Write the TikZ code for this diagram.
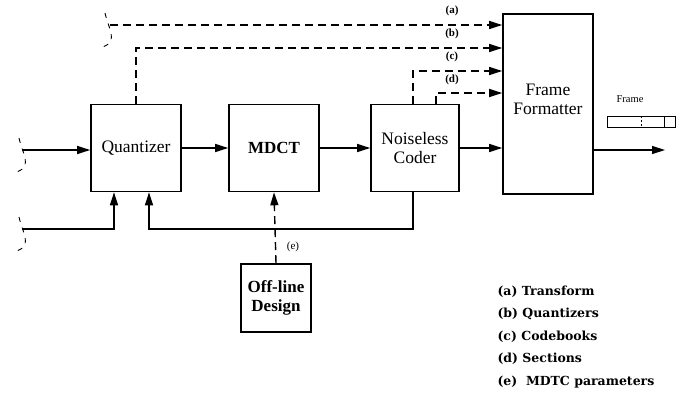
\documentclass[tikz,border=0pt]{standalone}
\usepackage{fontspec}
\setmainfont{Liberation Serif}
\newfontfamily\legfont{DejaVu Serif}
\usetikzlibrary{arrows.meta}
\begin{document}
\begin{tikzpicture}[x=1pt, y=-1pt,
    >={Triangle[length=13pt,width=8pt]},
    blocco/.style={draw, line width=1.6pt, align=center, inner sep=0pt,
        font=\fontsize{17.5}{19}\selectfont},
    freccia/.style={line width=1.4pt, ->},
    tratto/.style={line width=1.4pt, dash pattern=on 8pt off 5pt},
    etich/.style={font=\fontsize{11}{12}\selectfont\bfseries},
    legenda/.style={anchor=west, font=\legfont\bfseries\fontsize{12.5}{14}\selectfont},
    brk/.pic={\draw[line width=0.9pt, dash pattern=on 5pt off 6pt]
        (-3,-12) .. controls (-1,-2) and (5,8) .. (3,15)
        .. controls (1,19) .. (-5,22);}]
    \useasboundingbox (0,0) rectangle (681,397);

    % Blocchi
    \node[blocco, minimum width=90, minimum height=87] (qz) at (136,148) {Quantizer};
    \node[blocco, minimum width=90, minimum height=87, font=\fontsize{17}{19}\selectfont\bfseries] (mdct) at (274,148) {MDCT};
    \node[blocco, minimum width=88, minimum height=87] (nc) at (415,148) {Noiseless\\Coder};
    \node[blocco, minimum width=90, minimum height=180,
        label={[yshift=5pt, align=center, font=\fontsize{17.5}{19}\selectfont]center:Frame\\Formatter}] (ff) at (548,104) {};
    \node[blocco, minimum width=70, minimum height=68, font=\fontsize{17}{19}\selectfont\bfseries] (off) at (276,298) {Off-line\\Design};

    % Ingressi
    \coordinate (in1) at (22,150);
    \coordinate (in2) at (22,229);
    \coordinate (ina) at (110,25);
    \pic at (in1) {brk};
    \pic at (in2) {brk};
    \pic at ([xshift=-2pt]ina) {brk};

    % Righe dei parametri
    \coordinate (ya) at (0,25);
    \coordinate (yb) at (0,48);
    \coordinate (yc) at (0,71);
    \coordinate (yd) at (0,93);
    \coordinate (yf) at (0,229);

    % Catena principale
    \draw[freccia] (in1) -- (qz.west |- in1);
    \draw[freccia] (qz.east) -- (mdct.west);
    \draw[freccia] (mdct.east) -- (nc.west);
    \draw[freccia] (nc.east) -- (ff.west |- nc.east);
    \coordinate (out) at (665,150);
    \draw[freccia] (ff.east |- out) -- (out);

    % Linee tratteggiate verso il Frame Formatter
    \draw[tratto, ->] (ina) -- (ff.west |- ya);
    \draw[tratto, ->] (qz.north) |- (ff.west |- yb);
    \draw[tratto, ->] ([xshift=-2pt]nc.north) |- (ff.west |- yc);
    \draw[tratto, ->] ([xshift=21pt]nc.north) |- (ff.west |- yd);
    \node[etich] (la) at (452,11) {(a)};
    \node[etich] (lb) at (452,34) {(b)};
    \node[etich] (lc) at (452,57) {(c)};
    \node[etich] (ld) at (452,80) {(d)};

    % Retroazione e secondo ingresso
    \draw[freccia] ([xshift=-2pt]nc.south) |- ([xshift=13pt]qz.south |- yf) -- ([xshift=13pt]qz.south);
    \draw[freccia] (in2) -| ([xshift=-22pt]qz.south);

    % Off-line Design
    \draw[tratto, ->] (off.north) -- (mdct.south);
    \node[font=\fontsize{11}{12}\selectfont] (le) at (293,247) {(e)};

    % Trama
    \node[font=\fontsize{10.5}{12}\selectfont] (lfr) at (630,99) {Frame};
    \draw[line width=1pt] (607,116) rectangle (675,127);
    \draw[line width=0.8pt, dash pattern=on 2pt off 2pt] (641,116) -- (641,127);
    \draw[line width=0.8pt] (664,116) -- (664,127);

    % Legenda
    \node[legenda] (ga) at (494,292) {(a) Transform};
    \node[legenda] (gb) at (494,314) {(b) Quantizers};
    \node[legenda] (gc) at (494,337) {(c) Codebooks};
    \node[legenda] (gd) at (494,359) {(d) Sections};
    \node[legenda] (ge) at (494,382) {(e)\ \ MDTC parameters};
\end{tikzpicture}
\end{document}
